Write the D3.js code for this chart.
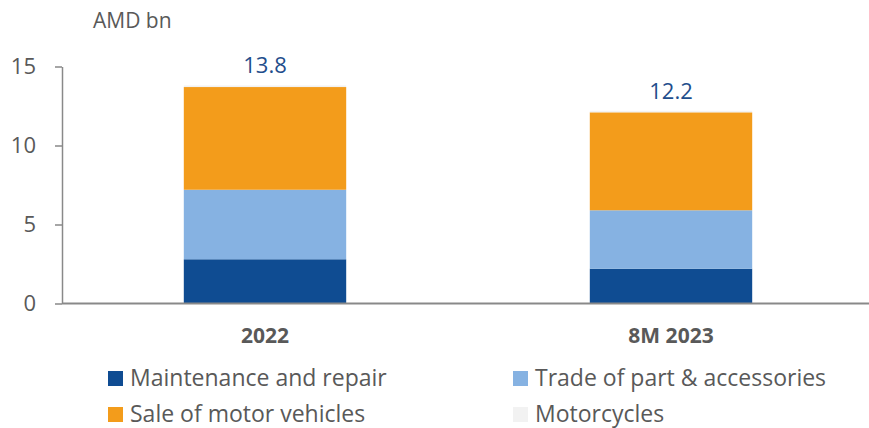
<!DOCTYPE html>
<html>
<head>
<meta charset="utf-8">
<script src="https://cdn.jsdelivr.net/npm/d3@7"></script>
<style>
  body { margin: 0; background: #fff; }
  text { font-family: "Open Sans", "Liberation Sans", Arial, sans-serif; }
</style>
</head>
<body>
<div id="chart"></div>
<script>
// data
const categories = ['2022', '8M 2023'];
const seriesNames = ['Maintenance and repair', 'Trade of part & accessories', 'Sale of motor vehicles', 'Motorcycles'];
const maintenance = [2.8, 2.2];
const tradeParts = [4.4, 3.7];
const saleVehicles = [6.5, 6.2];
const motorcycles = [0.1, 0.1];
const totals = [13.8, 12.2];
const yTicks = [0, 5, 10, 15];

const colors = ['#0f4c92', '#86b2e2', '#f39c1b', '#f2f2f2'];
const fontFam = '"Open Sans", "Liberation Sans", Arial, sans-serif';

var width = 869;
var height = 428;
var margin = { left: 62 };

const rows = categories.map((c, i) => ({
    cat: c,
    [seriesNames[0]]: maintenance[i],
    [seriesNames[1]]: tradeParts[i],
    [seriesNames[2]]: saleVehicles[i],
    [seriesNames[3]]: motorcycles[i],
    total: totals[i]
}));

const svg = d3.select('#chart').append('svg')
    .attr('width', width)
    .attr('height', height);

const x = d3.scaleBand()
    .domain(categories)
    .range([margin.left, margin.left + 812])
    .paddingInner(0.6)
    .paddingOuter(0.3);

const y = d3.scaleLinear()
    .domain([0, 15])
    .range([303.5, 66.5]);

// stacked bars
const stack = d3.stack().keys(seriesNames);
const layers = stack(rows);

svg.append('g').selectAll('g')
    .data(layers)
    .join('g')
    .attr('fill', (d, i) => colors[i])
    .selectAll('rect')
    .data(d => d)
    .join('rect')
    .attr('x', d => x(d.data.cat))
    .attr('width', x.bandwidth())
    .attr('y', d => y(d[1]))
    .attr('height', d => y(d[0]) - y(d[1]));

// total labels
svg.append('g').selectAll('text')
    .data(rows)
    .join('text')
    .attr('x', d => x(d.cat) + x.bandwidth() / 2)
    .attr('y', d => y(d.total) - 12)
    .attr('text-anchor', 'middle')
    .attr('fill', '#1f4e8c')
    .style('font-size', '22px')
    .text(d => d.total.toFixed(1));

// y axis
const yAxis = svg.append('g')
    .attr('transform', 'translate(' + margin.left + ',0)')
    .call(d3.axisLeft(y).tickValues(yTicks).tickSize(7).tickPadding(19).tickSizeOuter(0));
yAxis.select('.domain').attr('stroke', '#898989').attr('stroke-width', 1.5);
yAxis.selectAll('line').attr('stroke', '#898989').attr('stroke-width', 1.5);
yAxis.selectAll('text')
    .attr('fill', '#595959')
    .style('font-size', '22px')
    .style('font-family', fontFam);

// x axis
const xAxis = svg.append('g')
    .attr('transform', 'translate(0,' + y(0) + ')')
    .call(d3.axisBottom(x).tickSize(0).tickPadding(25));
xAxis.select('.domain')
    .attr('d', 'M' + margin.left + ',0H' + width)
    .attr('stroke', '#898989')
    .attr('stroke-width', 2);
xAxis.selectAll('text')
    .attr('fill', '#595959')
    .style('font-size', '21px')
    .style('font-weight', 'bold')
    .style('font-family', fontFam);

// unit label
svg.append('text')
    .attr('x', 93)
    .attr('y', 28)
    .attr('fill', '#595959')
    .style('font-size', '21px')
    .text('AMD bn');

// legend
const legendPos = [[108, 386], [513, 386], [108, 422], [513, 422]];
const legend = svg.append('g').selectAll('g')
    .data(seriesNames)
    .join('g')
    .attr('transform', (d, i) => 'translate(' + legendPos[i][0] + ',' + legendPos[i][1] + ')');
legend.append('rect')
    .attr('x', 0)
    .attr('y', -15)
    .attr('width', 15)
    .attr('height', 15)
    .attr('fill', (d, i) => colors[i]);
legend.append('text')
    .attr('x', 22)
    .attr('y', 0)
    .attr('fill', '#595959')
    .style('font-size', '23px')
    .text(d => d);
</script>
</body>
</html>
